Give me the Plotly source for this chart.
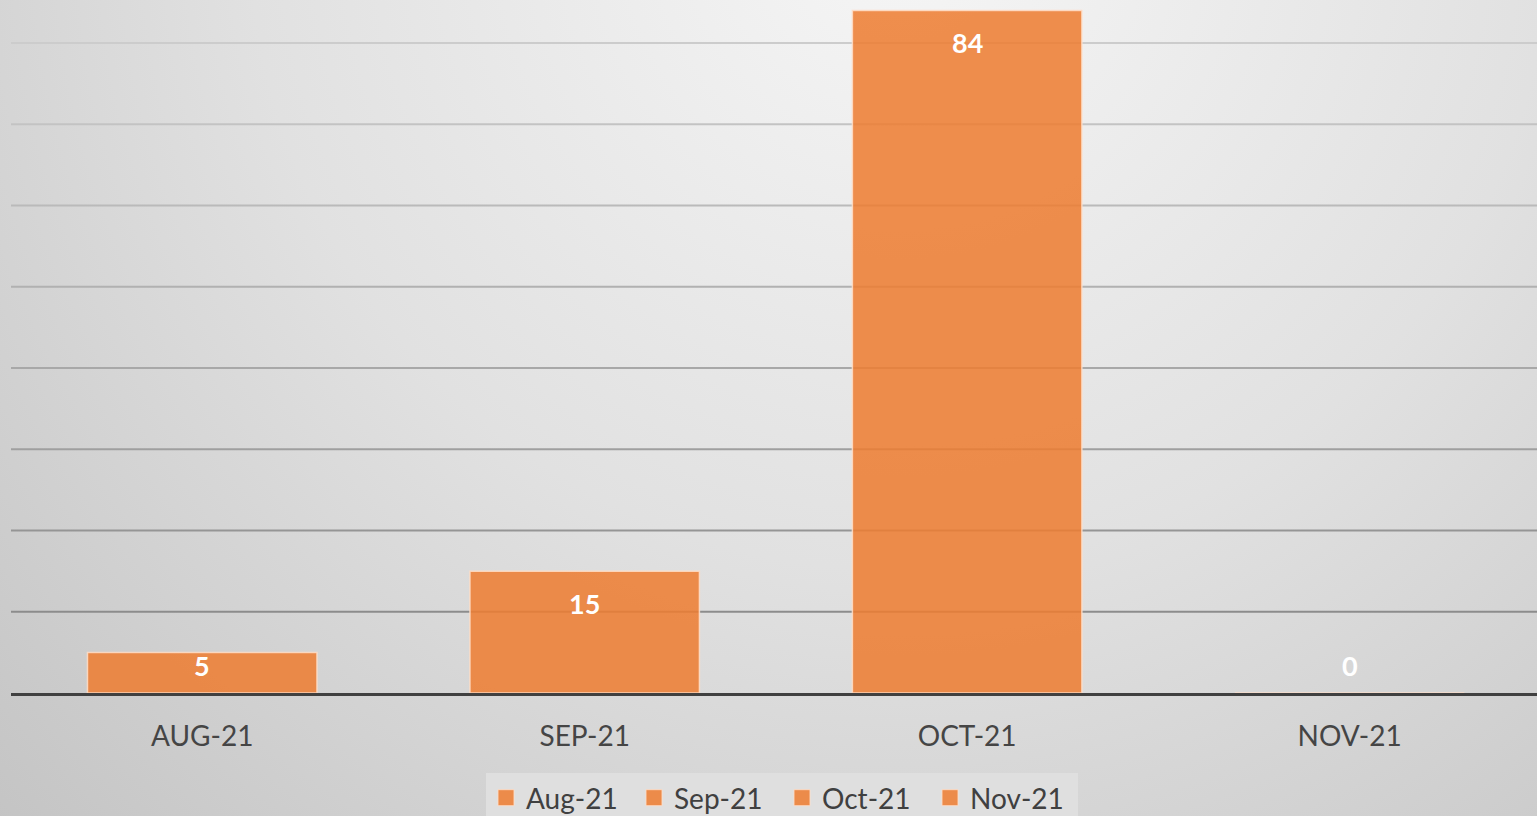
import base64
import plotly.graph_objects as go

# ---- data ----
categories = ["AUG-21", "SEP-21", "OCT-21", "NOV-21"]
series_names = ["Aug-21", "Sep-21", "Oct-21", "Nov-21"]
values = [5, 15, 84, 0]
grid_ticks = [10, 20, 30, 40, 50, 60, 70, 80]

# ---- layout constants ----
W, H = 1537, 816
ML, MR, MT, MB = 11, 0, 0, 123
YMAX = 85.3
PW, PH = W - ML - MR, H - MT - MB
px_per_unit = PH / YMAX

bar_fill = "rgba(237,125,49,0.86)"
bar_line = "rgba(255,222,200,0.85)"
grid_colors = ["#8c8c8c", "#959595", "#9f9f9f", "#a8a8a8", "#b1b1b1", "#bababa", "#c3c3c3", "#cccccc"]

# background radial gradient as inline svg image
svg = f"""<svg xmlns='http://www.w3.org/2000/svg' width='{W}' height='{H}' viewBox='0 0 {W} {H}' preserveAspectRatio='none'>
<defs><radialGradient id='g' gradientUnits='userSpaceOnUse' cx='900' cy='-80' r='1300'>
<stop offset='0' stop-color='#f6f6f6'/>
<stop offset='0.5' stop-color='#e1e1e1'/>
<stop offset='1' stop-color='#c3c3c3'/>
</radialGradient></defs>
<rect x='0' y='0' width='{W}' height='{H}' fill='url(#g)'/></svg>"""
svg_uri = "data:image/svg+xml;base64," + base64.b64encode(svg.encode()).decode()

fig = go.Figure()
for cat, name, val in zip(categories, series_names, values):
    fig.add_trace(go.Bar(
        x=[cat], y=[val], name=name, width=0.6, showlegend=False,
        marker=dict(color=bar_fill, line=dict(color=bar_line, width=1.5)),
        hoverinfo="skip",
    ))
# legend proxies (larger square swatches)
for name in series_names:
    fig.add_trace(go.Scatter(
        x=[None], y=[None], name=name, mode="markers",
        marker=dict(symbol="square", size=16, color=bar_fill,
                    line=dict(color=bar_line, width=1)),
        hoverinfo="skip",
    ))

# data labels (inside end, clamped near the base for short bars)
annotations = []
for cat, val in zip(categories, values):
    ly = max(val - 32 / px_per_unit, 28 / px_per_unit)
    annotations.append(dict(
        x=cat, y=ly, xref="x", yref="y", text=str(val), showarrow=False,
        yanchor="middle", xanchor="center",
        font=dict(family="Lato", size=27, color="white", weight="bold"),
    ))

shapes = []
for t, c in zip(grid_ticks, grid_colors):
    shapes.append(dict(type="line", xref="paper", yref="y", x0=0, x1=1, y0=t, y1=t,
                       line=dict(color=c, width=2), layer="between"))

fig.update_layout(
    width=W, height=H,
    margin=dict(l=ML, r=MR, t=MT, b=MB, autoexpand=False),
    paper_bgcolor="#d8d8d8",
    plot_bgcolor="rgba(0,0,0,0)",
    barmode="overlay",
    showlegend=True,
    images=[dict(source=svg_uri, xref="paper", yref="paper",
                 x=-ML / PW, y=1 + MT / PH, sizex=W / PW, sizey=H / PH,
                 xanchor="left", yanchor="top", sizing="stretch", layer="below")],
    xaxis=dict(
        range=[-0.5, len(categories) - 0.51],
        showgrid=False, zeroline=False, ticks="",
        showline=True, linecolor="#404040", linewidth=3,
        tickfont=dict(family="Lato", size=28, color="#454545"),
        ticklabelstandoff=16,
        fixedrange=True,
    ),
    yaxis=dict(range=[0, YMAX], showgrid=False, zeroline=False,
               showticklabels=False, ticks="", fixedrange=True),
    legend=dict(
        orientation="h", x=0.5 + 8 / PW, xanchor="center",
        y=(PH - (773 - MT)) / PH, yanchor="top",
        bgcolor="#dfdfdf",
        font=dict(family="Lato", size=28, color="#404040"),
        entrywidth=103, entrywidthmode="pixels",
        itemwidth=30, itemclick=False, itemdoubleclick=False,
        traceorder="normal",
    ),
    annotations=annotations,
    shapes=shapes,
)

fig.write_html(
    "out.html",
    config={"displayModeBar": False},
    post_script="document.body.style.margin='0';document.body.style.overflow='hidden';",
)
